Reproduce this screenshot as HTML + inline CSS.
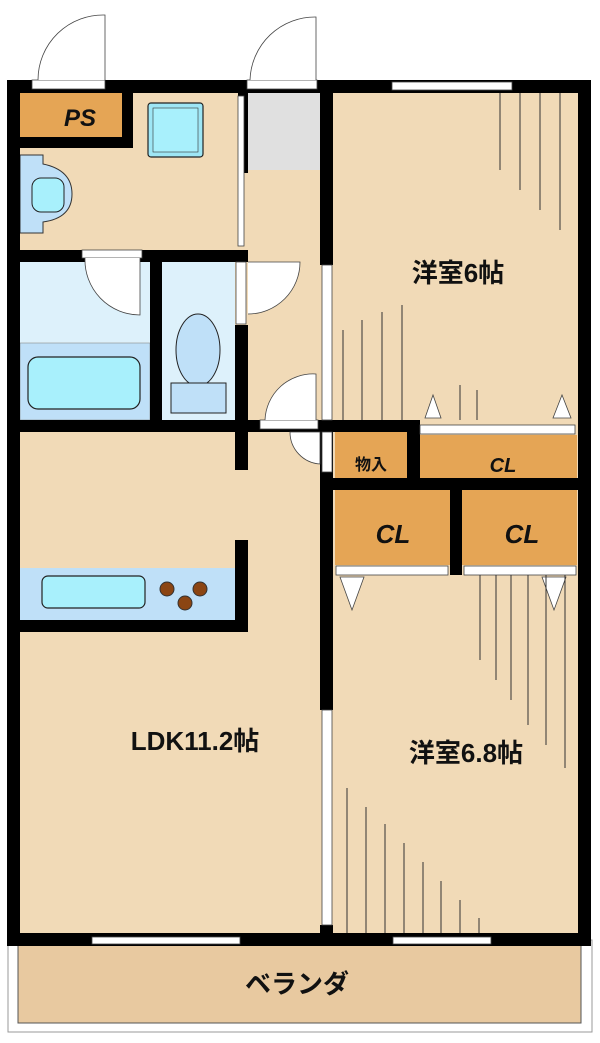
<!DOCTYPE html>
<html><head><meta charset="utf-8"><style>
html,body{margin:0;padding:0;background:#fff;width:600px;height:1043px;overflow:hidden}
text{font-family:"Liberation Sans","Noto Sans CJK JP",sans-serif;font-weight:bold;fill:#111}
</style></head><body>
<svg width="600" height="1043" viewBox="0 0 600 1043" xmlns="http://www.w3.org/2000/svg">
<!-- veranda -->
<rect x="8" y="940" width="584" height="92" fill="#fff" stroke="#999" stroke-width="1"/>
<rect x="18" y="945" width="563" height="78" fill="#E8C9A0" stroke="#555" stroke-width="1"/>
<!-- floors -->
<rect x="14" y="86" width="570" height="855" fill="#F1DAB7"/>
<rect x="248" y="93" width="72" height="77" fill="#E0E0E0"/>
<rect x="20" y="262" width="130" height="158" fill="#DDF1FB"/>
<rect x="20" y="343" width="130" height="77" fill="#BFE0F8" stroke="#888" stroke-width="0.6"/>
<rect x="28" y="357" width="112" height="52" rx="10" fill="#A8F0FC" stroke="#222" stroke-width="1.2"/>
<rect x="162" y="262" width="73" height="158" fill="#DDF1FB"/>
<ellipse cx="198" cy="350" rx="22" ry="36" fill="#BFE0F8" stroke="#222" stroke-width="1"/>
<rect x="171" y="383" width="55" height="30" fill="#BFE0F8" stroke="#222" stroke-width="1"/>
<rect x="148" y="103" width="55" height="54" rx="3" fill="#9EE6F5" stroke="#222" stroke-width="1.2"/>
<rect x="153" y="108" width="45" height="44" fill="#A8F0FC" stroke="#333" stroke-width="0.6"/>
<path d="M20 155 H43 V164 Q72 170 72 194 Q72 218 43 222 V233 H20 Z" fill="#BFE0F8" stroke="#333" stroke-width="1"/>
<rect x="32" y="178" width="32" height="34" rx="9" fill="#A8F0FC" stroke="#222" stroke-width="1"/>
<!-- PS -->
<rect x="20" y="93" width="102" height="44" fill="#E5A555"/>
<text x="80" y="126" font-size="24" text-anchor="middle" font-style="italic">PS</text>
<!-- kitchen -->
<rect x="20" y="568" width="215" height="52" fill="#BFE0F8"/>
<rect x="42" y="576" width="103" height="32" rx="6" fill="#A8F0FC" stroke="#222" stroke-width="1.2"/>
<circle cx="167" cy="589" r="7" fill="#8B4513" stroke="#333"/><circle cx="200" cy="589" r="7" fill="#8B4513" stroke="#333"/><circle cx="185" cy="603" r="7" fill="#8B4513" stroke="#333"/>
<!-- closets -->
<rect x="335" y="432" width="72" height="46" fill="#E5A555"/>
<rect x="420" y="435" width="157" height="43" fill="#E5A555"/>
<rect x="335" y="490" width="115" height="75" fill="#E5A555"/>
<rect x="462" y="490" width="115" height="75" fill="#E5A555"/>
<text x="371" y="470" font-size="16" text-anchor="middle">物入</text>
<text x="503" y="472" font-size="20" text-anchor="middle" font-style="italic">CL</text>
<text x="393" y="543" font-size="26" text-anchor="middle" font-style="italic">CL</text>
<text x="522" y="543" font-size="26" text-anchor="middle" font-style="italic">CL</text>
<!-- walls -->
<g fill="#000">
<rect x="7" y="80" width="13" height="866"/>
<rect x="578" y="80" width="13" height="866"/>
<rect x="7" y="80" width="584" height="13"/>
<rect x="7" y="933" width="584" height="13"/>
<rect x="122" y="93" width="11" height="55"/>
<rect x="20" y="137" width="113" height="11"/>
<rect x="20" y="250" width="228" height="12"/>
<rect x="150" y="250" width="12" height="170"/>
<rect x="235" y="325" width="13" height="107"/>
<rect x="20" y="420" width="300" height="12"/>
<rect x="235" y="432" width="13" height="38"/>
<rect x="235" y="540" width="13" height="92"/>
<rect x="20" y="620" width="228" height="12"/>
<rect x="238" y="93" width="10" height="80"/>
<rect x="320" y="80" width="13" height="185"/>
<rect x="320" y="420" width="13" height="160"/>
<rect x="320" y="580" width="13" height="130"/>
<rect x="320" y="925" width="13" height="15"/>
<rect x="320" y="420" width="100" height="12"/>
<rect x="407" y="420" width="13" height="70"/>
<rect x="320" y="478" width="270" height="12"/>
<rect x="450" y="478" width="12" height="97"/>
</g>
<!-- openings / doors -->
<g fill="#fff" stroke="#444" stroke-width="0.8">
<rect x="32" y="80" width="73" height="9"/>
<path d="M105 80 V15 A65 65 0 0 0 38 80" fill="#fff"/>
<rect x="247" y="80" width="70" height="9"/>
<path d="M316 80 V17 A65 65 0 0 0 250 80"/>
<rect x="82" y="250" width="60" height="8"/>
<path d="M140 258 V315 A55 55 0 0 1 85 258"/>
<rect x="236" y="262" width="10" height="62"/>
<path d="M248 262 H300 A52 52 0 0 1 248 314"/>
<rect x="260" y="420" width="58" height="9"/>
<path d="M316 420 V374 A48 48 0 0 0 265 420"/>
<path d="M290 432 A32 32 0 0 0 320 464 V432 Z"/>
<rect x="322" y="432" width="10" height="40"/>
<rect x="238" y="96" width="6" height="150"/>
<rect x="322" y="265" width="10" height="155"/>
<rect x="322" y="710" width="10" height="215"/>
<rect x="420" y="425" width="155" height="9"/>
<rect x="392" y="82" width="120" height="8"/>
<rect x="336" y="566" width="112" height="9"/>
<rect x="464" y="566" width="112" height="9"/>
<rect x="92" y="937" width="148" height="7"/>
<rect x="393" y="937" width="98" height="7"/>
<path d="M425 418 L433 395 L441 418 Z"/><path d="M553 418 L562 395 L571 418 Z"/>
<path d="M340 577 L352 610 L364 577 Z"/><path d="M542 577 L554 610 L566 577 Z"/>
</g>
<!-- hatch lines -->
<g stroke="#333" stroke-width="1">
<line x1="500" y1="93" x2="500" y2="170"/><line x1="520" y1="93" x2="520" y2="190"/>
<line x1="540" y1="93" x2="540" y2="210"/><line x1="560" y1="93" x2="560" y2="230"/>
<line x1="343" y1="330" x2="343" y2="420"/><line x1="362" y1="320" x2="362" y2="420"/>
<line x1="382" y1="312" x2="382" y2="420"/><line x1="402" y1="305" x2="402" y2="420"/>
<line x1="460" y1="385" x2="460" y2="420"/><line x1="477" y1="390" x2="477" y2="420"/>
<line x1="480" y1="575" x2="480" y2="660"/><line x1="496" y1="575" x2="496" y2="680"/>
<line x1="511" y1="575" x2="511" y2="700"/><line x1="528" y1="575" x2="528" y2="725"/>
<line x1="546" y1="575" x2="546" y2="745"/><line x1="565" y1="575" x2="565" y2="768"/>
<line x1="347" y1="788" x2="347" y2="933"/><line x1="366" y1="807" x2="366" y2="933"/>
<line x1="385" y1="824" x2="385" y2="933"/><line x1="404" y1="843" x2="404" y2="933"/>
<line x1="423" y1="862" x2="423" y2="933"/><line x1="441" y1="881" x2="441" y2="933"/>
<line x1="460" y1="900" x2="460" y2="933"/><line x1="479" y1="918" x2="479" y2="933"/>
</g>
<!-- labels -->
<text x="458" y="282" font-size="26" text-anchor="middle">洋室6帖</text>
<text x="466" y="762" font-size="26" text-anchor="middle">洋室6.8帖</text>
<text x="195" y="750" font-size="26" text-anchor="middle">LDK11.2帖</text>
<text x="297" y="993" font-size="26" text-anchor="middle">ベランダ</text>
</svg>
</body></html>
